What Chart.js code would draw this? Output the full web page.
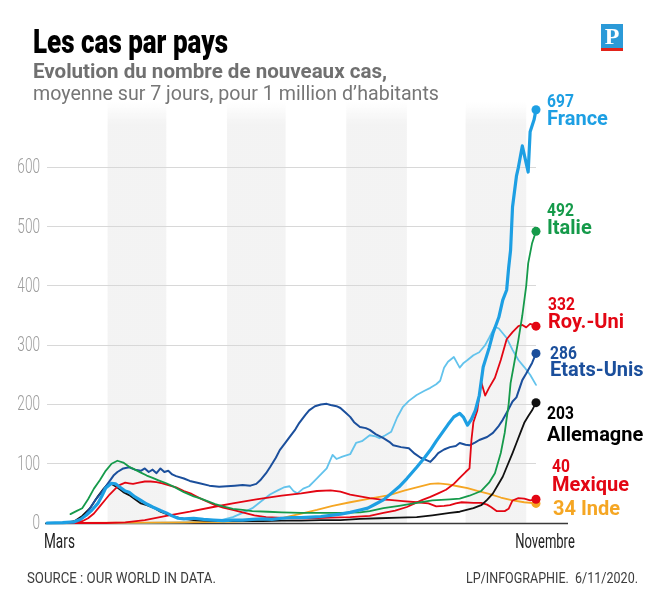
<!DOCTYPE html>
<html><head><meta charset="utf-8">
<script src="https://cdn.jsdelivr.net/npm/chart.js@4.4.1/dist/chart.umd.min.js"></script>
<style>
body{margin:0;width:660px;height:600px;position:relative;background:#fff;overflow:hidden;}
.t{position:absolute;white-space:nowrap;line-height:1;font-family:Roboto,sans-serif;transform-origin:0 0;}
#title{left:33px;top:23.5px;font-weight:900;font-size:34px;color:#000;}
#sub1{left:33px;top:61px;font-weight:bold;font-size:21px;color:#707070;}
#sub2{left:33px;top:83px;font-size:21px;color:#767676;}
#src{left:27px;top:571px;font-size:14px;color:#3c3c3c;}
#lp{left:466px;top:571px;font-size:14px;color:#3c3c3c;}
#logo{position:absolute;left:601px;top:24px;width:22px;height:24px;background:#2b9ad8;border-bottom:3px solid #e2231a;color:#fff;font:bold 24px 'Liberation Serif',serif;text-align:center;line-height:25px;}
canvas{position:absolute;left:0;top:0;}
</style></head>
<body>
<canvas id="c" width="660" height="600"></canvas>
<div class="t" id="title" data-w="195">Les cas par pays</div>
<div class="t" id="sub1" data-w="354">Evolution du nombre de nouveaux cas,</div>
<div class="t" id="sub2" data-w="406">moyenne sur 7 jours, pour 1 million d’habitants</div>
<div id="logo">P</div>
<div class="t" id="src" data-w="189">SOURCE : OUR WORLD IN DATA.</div>
<div class="t" id="lp" data-w="172">LP/INFOGRAPHIE.&nbsp; 6/11/2020.</div>
<script>
// x = days since 1 March 2020 ; y = new cases (7-day average) per million
const yTicks = [0,100,200,300,400,500,600];
const xTickLabels = ['Mars','Novembre'];
const xTickDays = [0,245];
const bandStart = [31,92,153,214];   // avril, juin, août, octobre
const bandEnd   = [61,122,184,245];

const franceDays = [0,8,14,17,20,23,26,28,30,33,35,37,40,42,45,48,51,54,58,61,64,67,70,75,80,85,90,95,100,105,110,115,120,125,130,135,140,145,150,155,160,164,168,172,176,180,184,189,193,196,199,202,205,208,211,213,215,217,219,221,223,226,228,231,233,235,236,237,238,240,241,243,246,247,249,250];
const franceCases = [0,0.5,2,6,13,22,33,45,59,67,66,61,54,52,44,38,32,27,21,17,12,8,7,8,6,5,4,5,5,6,7,6,8,9,9,10,11,13,15,18,22,25,32,39,50,61,75,94,110,123,138,152,166,179,185,178,165,175,190,215,263,295,320,347,376,393,430,460,533,585,600,636,592,660,680,697];

const italyDays = [12,15,18,21,24,27,30,33,36,39,42,45,48,51,54,57,61,65,70,75,78,82,86,90,95,100,105,113,120,130,140,150,160,165,172,180,189,197,206,211,216,222,226,229,232,234,236,237,239,241,243,245,246,248,250];
const italyCases = [15,20,25,40,58,72,88,100,105,102,95,90,85,80,76,72,67,61,52,45,42,37,32,28,24,22,20,19,18,17,17,17,18,20,25,29,34,38,40,41,46,54,68,84,118,152,200,236,272,309,350,400,438,472,492];

const ukDays = [0,10,15,18,21,24,27,30,32,35,37,40,42,44,47,50,53,56,59,62,66,70,74,78,82,86,90,95,100,106,112,118,125,135,145,155,165,172,178,184,188,192,196,200,204,208,211,214,216,217,218,220,222,224,226,229,232,235,238,241,243,245,247,250];
const ukCases = [0,0.3,1,3,8,16,28,40,48,58,64,68,67,66,68,70,70,69,67,64,60,54,49,42,36,30,26,22,18,13,10,9,8,8,9,10,12,17,21,27,33,39,44,50,56,66,76,86,92,140,170,190,238,215,228,245,275,310,322,332,334,330,336,332];

const usDays = [0,8,14,17,20,22,25,28,31,34,36,39,42,45,48,50,52,54,56,58,60,62,64,66,70,73,78,83,88,92,96,100,104,107,109,112,114,117,119,122,124,127,129,132,134,137,140,143,145,148,150,153,155,157,160,163,165,168,172,175,177,181,185,188,191,194,196,198,200,203,206,209,211,214,216,219,221,225,228,231,233,236,238,240,243,245,248,250];
const usCases = [0,0.3,1,5,15,25,40,52,66,80,86,92,94,90,88,92,86,90,84,92,86,88,82,79,75,71,67,63,61,62,63,64,63,66,72,84,94,110,123,136,145,158,169,182,190,197,200,201,199,197,194,185,179,170,162,160,157,150,143,137,131,128,126,117,110,106,103,110,118,124,128,130,135,132,131,136,140,145,152,164,174,192,205,212,241,252,270,286];

const germanyDays = [0,10,14,18,22,26,29,31,33,36,39,42,45,48,51,55,58,62,66,70,75,80,90,100,110,120,130,140,150,160,170,180,189,197,206,211,218,222,225,228,230,233,235,238,240,242,244,246,248,250];
const germanyCases = [0,0.5,3,12,25,45,58,65,66,60,52,47,40,33,30,25,19,14,10,7,5,4,3,3,3,4,4,5,5,7,8,9,10,13,17,19,25,30,39,50,61,78,94,118,135,152,169,180,190,203];

const mexicoDays = [0,30,40,50,61,73,85,95,107,120,130,138,145,150,155,160,165,170,175,182,189,195,199,203,206,209,212,218,222,225,227,230,234,236,238,241,244,247,250];
const mexicoCases = [0,0,1,5,12,19,27,33,40,46,50,54,55,53,48,45,42,40,39,37,35,33,28,29,30,33,35,34,34,31,27,20,20,24,38,42,41,38,40];

const indiaDays = [0,50,70,90,105,115,121,130,138,146,155,165,175,183,190,196,200,205,210,215,220,226,232,238,244,250];
const indiaCases = [0,0.5,1,2,3,5,9,16,22,29,35,41,47,55,61,66,67,65,62,59,54,49,43,38,35,33];

const argentinaDays = [0,50,60,70,80,88,95,100,105,110,114,118,121,124,126,128,131,134,137,140,143,146,148,151,155,158,161,165,168,170,173,176,179,182,185,189,193,196,199,201,203,205,208,210,211,213,215,218,221,224,226,229,231,233,235,238,241,244,247,250];
const argentinaCases = [0,0.3,0.5,1,2,4,10,17,25,38,48,55,60,62,54,50,58,62,72,82,92,115,108,112,116,135,138,148,146,143,148,154,178,196,206,216,223,228,234,240,262,272,280,268,262,270,275,283,288,300,312,331,328,320,312,292,275,263,250,233];

const endNumbers = ['697','492','332','286','203','40','34'];
const endNames = ['France','Italie','Roy.-Uni','Etats-Unis','Allemagne','Mexique','Inde'];

const pts = (d, v) => d.map((x, i) => ({x: x, y: v[i]}));

const series = [
  {name:'France', d:franceDays, v:franceCases, color:'#1d9fe3', w:3.2, label:0},
  {name:'Italie', d:italyDays, v:italyCases, color:'#159a4a', w:1.8, label:1},
  {name:'Roy.-Uni', d:ukDays, v:ukCases, color:'#e30613', w:1.8, label:2},
  {name:'Etats-Unis', d:usDays, v:usCases, color:'#1b4f9c', w:2, label:3},
  {name:'Allemagne', d:germanyDays, v:germanyCases, color:'#111111', w:1.8, label:4},
  {name:'Mexique', d:mexicoDays, v:mexicoCases, color:'#e30613', w:1.8, label:5},
  {name:'Inde', d:indiaDays, v:indiaCases, color:'#f5a623', w:1.8, label:6},
  {name:'Argentine', d:argentinaDays, v:argentinaCases, color:'#63c3ec', w:1.8, label:-1}
];

// label layout: pixel offsets (centre of each text line) relative to the end dot
const labelLayout = [
  {dx:11, dyNum:-7.5, dyName:10.5, inline:false},
  {dx:11, dyNum:-20, dyName:-2, inline:false},
  {dx:12, dyNum:-21, dyName:-3, inline:false},
  {dx:14, dyNum:0.5, dyName:17.5, inline:false},
  {dx:11, dyNum:12, dyName:33, inline:false},
  {dx:16, dyNum:-32, dyName:-13, inline:false},
  {dx:17, dyNum:7, dyName:7, inline:true}
];
const labelColors = ['#1d9fe3','#159a4a','#e30613','#1b4f9c','#000000','#e30613','#f5a623'];

function scaledText(ctx, text, x, y, sx, align){
  ctx.save();
  ctx.translate(x, y);
  ctx.scale(sx, 1);
  ctx.textAlign = align || 'left';
  ctx.fillText(text, 0, 0);
  ctx.restore();
}

const bandsPlugin = {
  id:'bands',
  beforeDraw(chart){
    const {ctx, chartArea:a, scales:{x}} = chart;
    ctx.save();
    const top = a.top - 6;
    const g = ctx.createLinearGradient(0, top, 0, top + 22);
    g.addColorStop(0, 'rgba(236,236,236,0)');
    g.addColorStop(1, 'rgba(236,236,236,0.62)');
    ctx.fillStyle = g;
    for (let i = 0; i < bandStart.length; i++){
      const x1 = x.getPixelForValue(bandStart[i]);
      const x2 = x.getPixelForValue(bandEnd[i]);
      ctx.fillRect(x1, top, x2 - x1, a.bottom - top);
    }
    ctx.restore();
  },
  beforeDatasetsDraw(chart){
    const {ctx, chartArea:a, scales:{x, y}} = chart;
    const y0 = y.getPixelForValue(0);
    ctx.save();
    ctx.strokeStyle = '#3a3a3a';
    ctx.lineWidth = 1.5;
    ctx.beginPath();
    ctx.moveTo(a.left - 2, y0 + 0.5);
    ctx.lineTo(a.right + 32, y0 + 0.5);
    ctx.stroke();
    // y tick labels (narrow)
    ctx.fillStyle = '#9c9c9c';
    ctx.font = "300 20px Roboto, sans-serif";
    ctx.textBaseline = 'middle';
    yTicks.forEach(v => scaledText(ctx, String(v), a.left - 7, y.getPixelForValue(v) + 1, 0.68, 'right'));
    // x labels
    ctx.fillStyle = '#222';
    ctx.font = "20px Roboto, sans-serif";
    ctx.textBaseline = 'alphabetic';
    scaledText(ctx, xTickLabels[0], x.getPixelForValue(xTickDays[0]) - 3, y0 + 25, 0.68, 'left');
    scaledText(ctx, xTickLabels[1], x.getPixelForValue(xTickDays[1]) - 11, y0 + 25, 0.65, 'left');
    ctx.restore();
  },
  afterDraw(chart){
    const {ctx, scales:{x, y}} = chart;
    ctx.save();
    ctx.textBaseline = 'middle';
    series.forEach(s => {
      if (s.label < 0) return;
      const L = labelLayout[s.label];
      const lastD = s.d[s.d.length - 1], lastV = s.v[s.v.length - 1];
      const px = x.getPixelForValue(lastD) + L.dx;
      const py = y.getPixelForValue(lastV);
      ctx.fillStyle = labelColors[s.label];
      if (L.inline){
        ctx.font = "bold 20px Roboto, sans-serif";
        scaledText(ctx, endNumbers[s.label] + ' ' + endNames[s.label], px, py + L.dyNum, 1, 'left');
      } else {
        ctx.font = "bold 19px Roboto, sans-serif";
        scaledText(ctx, endNumbers[s.label], px, py + L.dyNum, 0.82, 'left');
        ctx.font = "bold 20px Roboto, sans-serif";
        scaledText(ctx, endNames[s.label], px, py + L.dyName, 1, 'left');
      }
    });
    ctx.restore();
  }
};

function fitTexts(){
  document.querySelectorAll('.t[data-w]').forEach(el => {
    const w = el.getBoundingClientRect().width;
    const target = parseFloat(el.dataset.w);
    if (w > 0) el.style.transform = 'scaleX(' + (target / w) + ')';
  });
}
fitTexts();

new Chart(document.getElementById('c'), {
  type:'line',
  data:{
    datasets: series.map(s => ({
      label:s.name,
      data:pts(s.d, s.v),
      borderColor:s.color,
      backgroundColor:s.color,
      borderWidth:s.w,
      tension:0,
      fill:false,
      clip:false,
      pointRadius: ctx => (s.label >= 0 && ctx.dataIndex === s.d.length - 1) ? 4.5 : 0,
      pointBorderWidth:0,
      pointBackgroundColor:s.color,
      borderJoinStyle:'round',
      borderCapStyle:'round'
    }))
  },
  options:{
    responsive:false,
    animation:false,
    devicePixelRatio:1,
    layout:{padding:{top:108, bottom:77, left:0, right:124}},
    plugins:{legend:{display:false}, tooltip:{enabled:false}},
    scales:{
      x:{type:'linear', min:0, max:250, display:false},
      y:{
        min:0, max:700,
        afterBuildTicks: s => { s.ticks = yTicks.map(v => ({value:v})); },
        afterFit: s => { s.width = 47; },
        border:{display:false},
        grid:{drawTicks:false, lineWidth:1, color: c => (c.tick && c.tick.value === 0) ? 'rgba(0,0,0,0)' : '#d8d8d8'},
        ticks:{display:false}
      }
    }
  },
  plugins:[bandsPlugin]
});
</script>
</body></html>
